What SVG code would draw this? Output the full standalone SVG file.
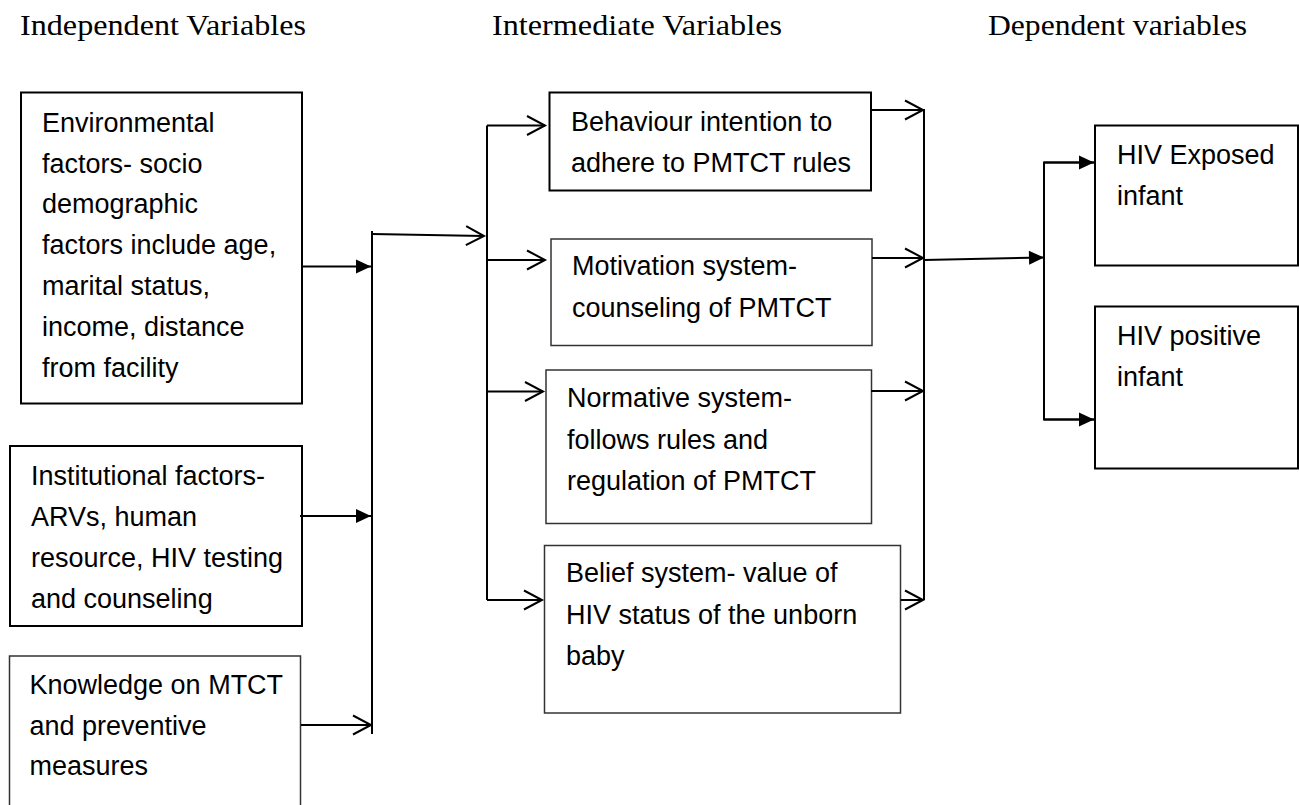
<svg xmlns="http://www.w3.org/2000/svg" width="1299" height="805" viewBox="0 0 1299 805">
<style>
.hdr{font-family:"Liberation Serif","Times New Roman",serif;font-size:30px;fill:#000}
.t{font-family:"Liberation Sans",Arial,sans-serif;font-size:27px;fill:#000}
.box{fill:#fff;stroke:#000;stroke-width:2}
.box2{fill:#fff;stroke:#333;stroke-width:1.5}
.ln{fill:none;stroke:#000;stroke-width:2}
</style>
<defs>
<marker id="open" markerUnits="userSpaceOnUse" markerWidth="22" markerHeight="22" refX="18" refY="9.5" orient="auto" overflow="visible">
<path d="M0,0 L18,9.5 L0,19" fill="none" stroke="#000" stroke-width="2"/>
</marker>
<marker id="fill" markerUnits="userSpaceOnUse" markerWidth="18" markerHeight="16" refX="15" refY="7" orient="auto" overflow="visible">
<path d="M0,0 L15,7 L0,14 z" fill="#000"/>
</marker>
</defs>
<rect width="1299" height="805" fill="#fff"/>

<g id="headers">
<text class="hdr" x="20" y="35" textLength="286" lengthAdjust="spacingAndGlyphs">Independent Variables</text>
<text class="hdr" x="492" y="35" textLength="290" lengthAdjust="spacingAndGlyphs">Intermediate Variables</text>
<text class="hdr" x="988" y="35" textLength="259" lengthAdjust="spacingAndGlyphs">Dependent variables</text>
</g>

<g id="env">
<rect class="box" x="21" y="92.5" width="281" height="311"/>
<text class="t" x="42"><tspan x="42" y="132">Environmental</tspan><tspan x="42" y="172.5">factors- socio</tspan><tspan x="42" y="213">demographic</tspan><tspan x="42" y="253.5">factors include age,</tspan><tspan x="42" y="294.5">marital status,</tspan><tspan x="42" y="336">income, distance</tspan><tspan x="42" y="377">from facility</tspan></text>
</g>

<g id="inst">
<rect class="box" x="10" y="446" width="292" height="180"/>
<text class="t"><tspan x="31" y="485">Institutional factors-</tspan><tspan x="31" y="526">ARVs, human</tspan><tspan x="31" y="567">resource, HIV testing</tspan><tspan x="31" y="608">and counseling</tspan></text>
</g>

<g id="knowledge">
<rect class="box2" x="9.5" y="656" width="291" height="170"/>
<text class="t"><tspan x="29.5" y="693.5">Knowledge on MTCT</tspan><tspan x="29.5" y="735">and preventive</tspan><tspan x="29.5" y="775">measures</tspan></text>
</g>

<g id="behaviour">
<rect class="box" x="549.5" y="92.5" width="321.5" height="98"/>
<text class="t"><tspan x="571" y="131">Behaviour intention to</tspan><tspan x="571" y="172">adhere to PMTCT rules</tspan></text>
</g>

<g id="motivation">
<rect class="box2" x="551" y="239" width="321" height="106.5"/>
<text class="t"><tspan x="572" y="275">Motivation system-</tspan><tspan x="572" y="317">counseling of PMTCT</tspan></text>
</g>

<g id="normative">
<rect class="box2" x="546" y="370" width="325.5" height="153.5"/>
<text class="t"><tspan x="567" y="407">Normative system-</tspan><tspan x="567" y="448.5">follows rules and</tspan><tspan x="567" y="490">regulation of PMTCT</tspan></text>
</g>

<g id="belief">
<rect class="box2" x="544.5" y="545.5" width="356" height="167.5"/>
<text class="t"><tspan x="566" y="582">Belief system- value of</tspan><tspan x="566" y="623.5">HIV status of the unborn</tspan><tspan x="566" y="665">baby</tspan></text>
</g>

<g id="exposed">
<rect class="box" x="1095" y="125.5" width="203" height="140"/>
<text class="t"><tspan x="1117" y="163.5">HIV Exposed</tspan><tspan x="1117" y="205">infant</tspan></text>
</g>

<g id="positive">
<rect class="box" x="1095" y="306.5" width="203" height="162"/>
<text class="t"><tspan x="1117" y="345">HIV positive</tspan><tspan x="1117" y="386">infant</tspan></text>
</g>

<g id="connectors">
<!-- independent to collector -->
<line class="ln" x1="302" y1="266.5" x2="371" y2="266.5" marker-end="url(#fill)"/>
<line class="ln" x1="300" y1="516" x2="371" y2="516" marker-end="url(#fill)"/>
<line class="ln" x1="301" y1="725" x2="371" y2="725" marker-end="url(#open)"/>
<line class="ln" x1="372" y1="231" x2="372" y2="734"/>
<line class="ln" x1="372" y1="234" x2="484" y2="236" marker-end="url(#open)"/>
<!-- distribution to intermediate -->
<polyline class="ln" points="487,600 487,125.5"/>
<line class="ln" x1="487" y1="125.5" x2="545" y2="125.5" marker-end="url(#open)"/>
<line class="ln" x1="487" y1="260" x2="545" y2="260" marker-end="url(#open)"/>
<line class="ln" x1="487" y1="391.5" x2="543" y2="391.5" marker-end="url(#open)"/>
<line class="ln" x1="487" y1="600" x2="542" y2="600" marker-end="url(#open)"/>
<!-- intermediate to collector -->
<line class="ln" x1="871" y1="110" x2="923" y2="110" marker-end="url(#open)"/>
<line class="ln" x1="872" y1="258" x2="923" y2="258" marker-end="url(#open)"/>
<line class="ln" x1="871" y1="391" x2="923" y2="391" marker-end="url(#open)"/>
<line class="ln" x1="900.5" y1="600" x2="923" y2="600" marker-end="url(#open)"/>
<line class="ln" x1="924" y1="109" x2="924" y2="600"/>
<!-- to dependent -->
<line class="ln" x1="924" y1="260" x2="1044" y2="257.5" marker-end="url(#fill)"/>
<polyline class="ln" points="1094,162.5 1044,162.5 1044,419.5 1094,419.5"/>
<line class="ln" x1="1044" y1="162.5" x2="1094" y2="162.5" marker-end="url(#fill)"/>
<line class="ln" x1="1044" y1="419.5" x2="1094" y2="419.5" marker-end="url(#fill)"/>
</g>
</svg>
